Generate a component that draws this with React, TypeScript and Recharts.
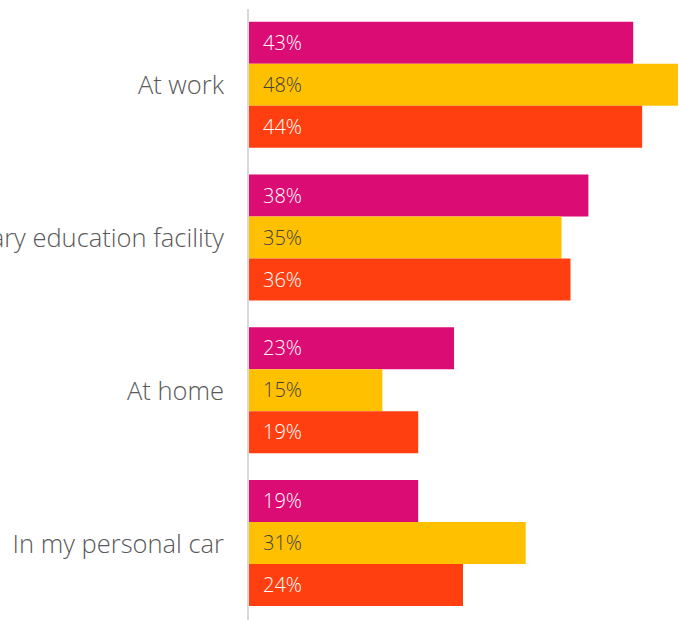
import React from "react";
import { BarChart, Bar, XAxis, YAxis, LabelList } from "recharts";

const categories = ["At work", "At a tertiary education facility", "At home", "In my personal car"];
const seriesA = [43, 38, 23, 19];
const seriesB = [48, 35, 15, 31];
const seriesC = [44, 36, 19, 24];

const data = categories.map((name, i) => ({
  name,
  a: seriesA[i],
  b: seriesB[i],
  c: seriesC[i],
}));

const FONT = "'Open Sans', 'DejaVu Sans', sans-serif";
const fmt = (v: number) => `${v}%`;

export default function App() {
  return (
    <div style={{ position: "absolute", left: 0, top: 0, width: 679, height: 620, background: "#fff" }}>
      <BarChart
        width={679}
        height={620}
        data={data}
        layout="vertical"
        margin={{ top: 9, right: 1, bottom: 0, left: 0 }}
        barCategoryGap="8.4%"
        barGap={0}
      >
        <XAxis type="number" domain={[0, 48]} hide />
        <YAxis
          type="category"
          dataKey="name"
          width={248}
          tickLine={false}
          tickSize={6}
          tickMargin={18}
          axisLine={{ stroke: "#d9d9d9", strokeWidth: 2 }}
          tick={{ fill: "#595959", fontSize: 25.5, fontFamily: FONT, fontWeight: 300 }}
          interval={0}
        />
        <Bar dataKey="a" name="Series 1" fill="#DB0C74" isAnimationActive={false}>
          <LabelList dataKey="a" position="insideLeft" offset={15} formatter={fmt} fill="#ffffff" style={{ fontSize: 20, fontFamily: FONT, fontWeight: 300 }} />
        </Bar>
        <Bar dataKey="b" name="Series 2" fill="#FFC000" isAnimationActive={false}>
          <LabelList dataKey="b" position="insideLeft" offset={15} formatter={fmt} fill="#404040" style={{ fontSize: 20, fontFamily: FONT, fontWeight: 300 }} />
        </Bar>
        <Bar dataKey="c" name="Series 3" fill="#FF3F10" isAnimationActive={false}>
          <LabelList dataKey="c" position="insideLeft" offset={15} formatter={fmt} fill="#ffffff" style={{ fontSize: 20, fontFamily: FONT, fontWeight: 300 }} />
        </Bar>
      </BarChart>
    </div>
  );
}
